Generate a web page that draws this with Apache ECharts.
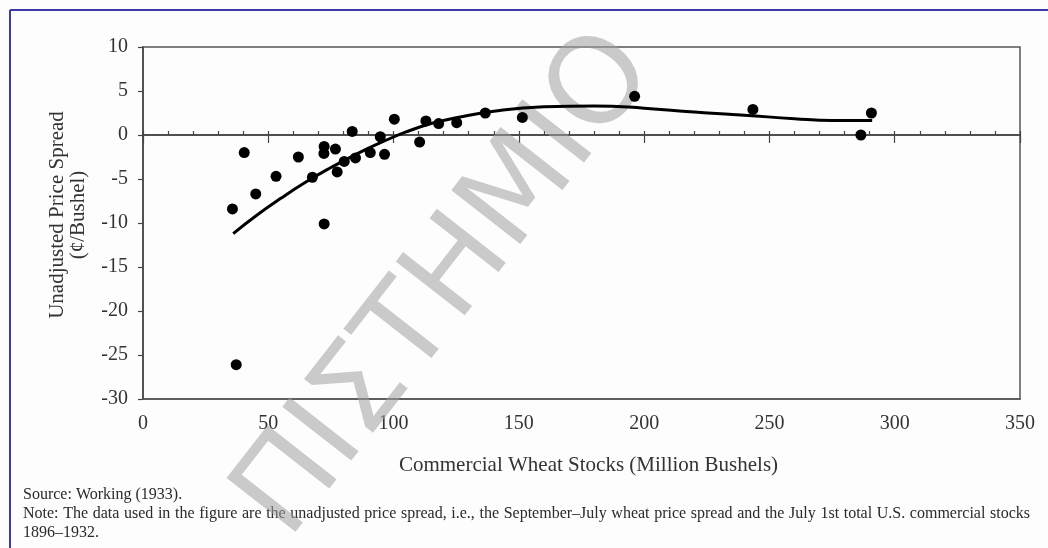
<!DOCTYPE html>
<html>
<head>
<meta charset="utf-8">
<script src="https://cdn.jsdelivr.net/npm/echarts@6/dist/echarts.min.js"></script>
<style>
  html, body { margin: 0; padding: 0; background: #fdfdfd; }
  #chart { width: 1048px; height: 548px; }
</style>
</head>
<body>
<div id="chart"></div>
<script>
// Commercial wheat stocks (million bushels), July 1st, 1896–1932
const stocks = [35.7, 40.4, 45.0, 53.1, 62.0, 37.2, 67.6, 72.2, 72.3, 72.3, 76.8, 77.5,
                80.3, 84.8, 83.5, 90.7, 94.7, 96.4, 100.3, 110.4, 112.9, 118.0, 125.2,
                136.6, 151.4, 196.2, 243.4, 286.5, 290.7];
// Unadjusted September–July price spread (cents per bushel)
const spread = [-8.4, -2.0, -6.7, -4.7, -2.5, -26.1, -4.8, -2.1, -1.3, -10.1, -1.6, -4.2,
                -3.0, -2.6, 0.4, -2.0, -0.2, -2.2, 1.8, -0.8, 1.6, 1.3, 1.4,
                2.5, 2.0, 4.4, 2.9, 0.0, 2.5];

// Fitted supply-of-storage curve
const fitStocks = [36, 45, 55, 65, 75, 85, 95, 105, 115, 125, 140, 160, 180, 200, 220, 240, 260, 275, 291];
const fitSpread = [-11.2, -9.2, -7.2, -5.35, -3.7, -2.2, -0.85, 0.35, 1.3, 1.95, 2.7, 3.2, 3.3, 3.05, 2.6, 2.25, 1.85, 1.65, 1.65];

const xTicks = { min: 0, max: 350, step: 50 };
const yTicks = { min: -30, max: 10, step: 5 };

const xTitle = 'Commercial Wheat Stocks (Million Bushels)';
const yTitle = 'Unadjusted Price Spread\n(¢/Bushel)';
const sourceText = 'Source: Working (1933).';
const noteFirstLine = 'Note: The data used in the figure are the unadjusted price spread, i.e., the September–July wheat price spread and the July 1st total U.S. commercial stocks';
const noteLastLine = '1896–1932.';
const watermark = 'ΠΙΣΤΗΜΙΟ';

const serif = '"Liberation Serif", "DejaVu Serif", serif';
const axisColor = '#444';
const noteFont = '16px "Liberation Serif"';
const noteColor = '#2a2a2a';

const scatterData = stocks.map((x, i) => [x, spread[i]]);
const fitData = fitStocks.map((x, i) => [x, fitSpread[i]]);

function noteText(text, x, y) {
  return { type: 'text', x: x, y: y,
    style: { text: text, font: noteFont, fill: noteColor, textVerticalAlign: 'top' } };
}

// Justified first note line: words spread between the left and right text margins
function justifiedWords(line, left, right, top) {
  const ctx = document.createElement('canvas').getContext('2d');
  ctx.font = noteFont;
  const words = line.split(' ');
  const widths = words.map(w => ctx.measureText(w).width);
  const total = widths.reduce((a, b) => a + b, 0);
  const gap = (right - left - total) / (words.length - 1);
  let x = left;
  return words.map((w, i) => {
    const el = noteText(w, x, top);
    x += widths[i] + gap;
    return el;
  });
}

const chart = echarts.init(document.getElementById('chart'), null, { renderer: 'canvas' });

chart.setOption({
  backgroundColor: '#fdfdfd',
  animation: false,
  grid: {
    left: 143, right: 28, top: 47, bottom: 149,
    show: true, borderColor: '#555', borderWidth: 1.5, backgroundColor: 'transparent'
  },
  xAxis: [
    {
      // bottom frame with the value labels
      type: 'value', min: xTicks.min, max: xTicks.max, interval: xTicks.step,
      position: 'bottom',
      axisLine: { show: true, onZero: false, lineStyle: { color: '#555', width: 1.5 } },
      axisTick: { show: false },
      splitLine: { show: false },
      axisLabel: { fontFamily: serif, fontSize: 20, color: '#333', margin: 15 },
      name: xTitle, nameLocation: 'middle', nameGap: 56,
      nameTextStyle: { fontFamily: serif, fontSize: 21, color: '#333', padding: [0, 0, 0, 14] }
    },
    {
      // zero line with short ticks above it
      type: 'value', min: xTicks.min, max: xTicks.max, interval: xTicks.step,
      position: 'bottom',
      axisLine: { show: true, onZero: true, onZeroAxisIndex: 0, lineStyle: { color: axisColor, width: 1.5 } },
      axisTick: { show: true, inside: true, length: 4, lineStyle: { color: axisColor, width: 1.2 } },
      minorTick: { show: true, splitNumber: 5, length: 4, lineStyle: { color: axisColor, width: 1.2 } },
      axisLabel: { show: false },
      splitLine: { show: false }
    },
    {
      // major ticks reaching below the zero line
      type: 'value', min: xTicks.min, max: xTicks.max, interval: xTicks.step,
      position: 'bottom',
      axisLine: { show: true, onZero: true, onZeroAxisIndex: 1, lineStyle: { color: axisColor, width: 1.5 } },
      axisTick: { show: true, inside: false, length: 8, lineStyle: { color: axisColor, width: 1.2 } },
      axisLabel: { show: false },
      splitLine: { show: false }
    }
  ],
  yAxis: [
    {
      type: 'value', min: yTicks.min, max: yTicks.max, interval: yTicks.step,
      position: 'left',
      axisLine: { show: true, onZero: false, lineStyle: { color: axisColor, width: 1.5 } },
      axisTick: { show: true, inside: false, length: 5, lineStyle: { color: axisColor, width: 1.2 } },
      splitLine: { show: false },
      axisLabel: { fontFamily: serif, fontSize: 20, color: '#333', margin: 15 },
      name: yTitle, nameLocation: 'middle', nameRotate: 90, nameGap: 54,
      nameTextStyle: { fontFamily: serif, fontSize: 21, color: '#333', lineHeight: 21, padding: [0, 0, 0, 16] }
    },
    {
      type: 'value', min: yTicks.min, max: yTicks.max, interval: yTicks.step,
      show: false
    }
  ],
  series: [
    {
      type: 'line', data: fitData, smooth: true, showSymbol: false,
      xAxisIndex: 0, yAxisIndex: 0,
      lineStyle: { color: '#000', width: 3 }, z: 3
    },
    {
      type: 'scatter', data: scatterData, symbolSize: 11,
      xAxisIndex: 0, yAxisIndex: 0,
      itemStyle: { color: '#000', opacity: 1 }, z: 4
    }
  ],
  graphic: [
    // page frame
    { type: 'line', shape: { x1: 10, y1: 10, x2: 1048, y2: 10 }, style: { stroke: '#3b3ba6', lineWidth: 2 }, z: 10 },
    { type: 'line', shape: { x1: 10, y1: 10, x2: 10, y2: 548 }, style: { stroke: '#3b3ba6', lineWidth: 2 }, z: 10 },
    // diagonal watermark
    {
      type: 'text', x: 448, y: 286, rotation: 52 * Math.PI / 180, z: 1, silent: true,
      style: {
        text: watermark, fontFamily: '"DejaVu Sans", sans-serif', fontSize: 120,
        fill: 'rgba(160,160,160,0.55)', align: 'center', verticalAlign: 'middle'
      }
    },
    // footnotes
    noteText(sourceText, 23, 487),
    ...justifiedWords(noteFirstLine, 23, 1030, 506),
    noteText(noteLastLine, 23, 525)
  ]
});
</script>
</body>
</html>
